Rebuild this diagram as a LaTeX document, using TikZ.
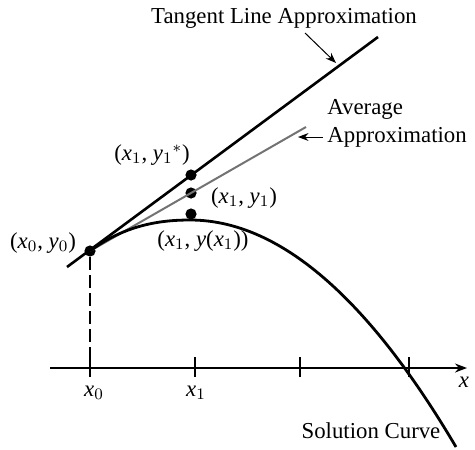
\documentclass[tikz,border=0pt]{standalone}
\usepackage{fontspec}
\setmainfont{Liberation Serif}
\usepackage{tikz}
\usetikzlibrary{arrows.meta,positioning}

\newcommand{\lblsize}{\fontsize{11.4}{14}\selectfont}
\newcommand{\vsub}[2]{$\mathit{#1}_{#2}$}

\begin{document}
\begin{tikzpicture}[
  x=0.5pt, y=-0.5pt,
  >=Stealth,
  lbl/.style={font=\lblsize, inner sep=0pt},
  dot/.style={circle, fill=black, inner sep=0pt, minimum size=5.6pt},
  solcurve/.style={line width=1.4pt},
  tanline/.style={line width=1.3pt},
  avgline/.style={line width=1pt, draw=black!55},
  axis/.style={line width=0.7pt, -{Stealth[length=6pt,width=4.5pt]}},
  tickmark/.style={line width=0.7pt},
  dashline/.style={line width=0.7pt, dash pattern=on 6.5pt off 2.5pt},
  ptr/.style={->, line width=0.5pt},
]
\useasboundingbox (0,0) rectangle (475,449);

% ---- x axis ----
\coordinate (A0) at (50,368);
\coordinate (A1) at (467,368);
\draw[axis] (A0) -- (A1);
\foreach \t in {90,195,300,409}
  \draw[tickmark] (\t,357) -- (\t,377);
\node[lbl] (X0) at (94,393) {\vsub{x}{0}};
\node[lbl] (X1) at (196,393) {\vsub{x}{1}};
\node[lbl] (XL) at (464,382) {$\mathit{x}$};

% ---- points ----
\node[dot] (P0) at (90,251) {};
\node[dot] (Q1) at (191,175) {};
\node[dot] (Q2) at (191,193) {};
\node[dot] (Q3) at (191,214) {};
\coordinate (Tb) at (67,267);
\coordinate (Te) at (378,37);
\coordinate (Ae) at (306,127);
\coordinate (Cp) at (190,220);
\coordinate (Ce) at (456,447);

% ---- lines ----
\draw[dashline] (P0) -- (P0 |- A0);
\draw[avgline] (P0.center) -- (Ae);
\draw[tanline] (Tb) -- (Te);
\draw[solcurve] (P0.center) .. controls (125,225) and (160,220) .. (Cp)
  .. controls (290,220) and (380,318) .. (Ce);

% ---- labels ----
\node[lbl] (L0) at (43,243) {(\vsub{x}{0}, \vsub{y}{0})};
\node[lbl] (L1) at (152,155) {(\vsub{x}{1}, \vsub{y}{1}$^{*}$)};
\node[lbl] (L2) at (244,198) {(\vsub{x}{1}, \vsub{y}{1})};
\node[lbl] (L3) at (203,241) {(\vsub{x}{1}, $\mathit{y}$(\vsub{x}{1}))};
\node[lbl] (TL) at (284,18) {Tangent Line Approximation};
\node[lbl, align=left, anchor=north west] (AL) at (327,99) {Average\\Approximation};
\node[lbl] (SC) at (371,431) {Solution Curve};

% ---- pointers ----
\coordinate (TLs) at (305,33);
\coordinate (TLe) at (336,63);
\draw[ptr] (TLs) -- (TLe);
\coordinate (ALs) at (323,137);
\coordinate (ALe) at (298,137);
\draw[ptr] (ALs) -- (ALe);

\end{tikzpicture}
\end{document}
